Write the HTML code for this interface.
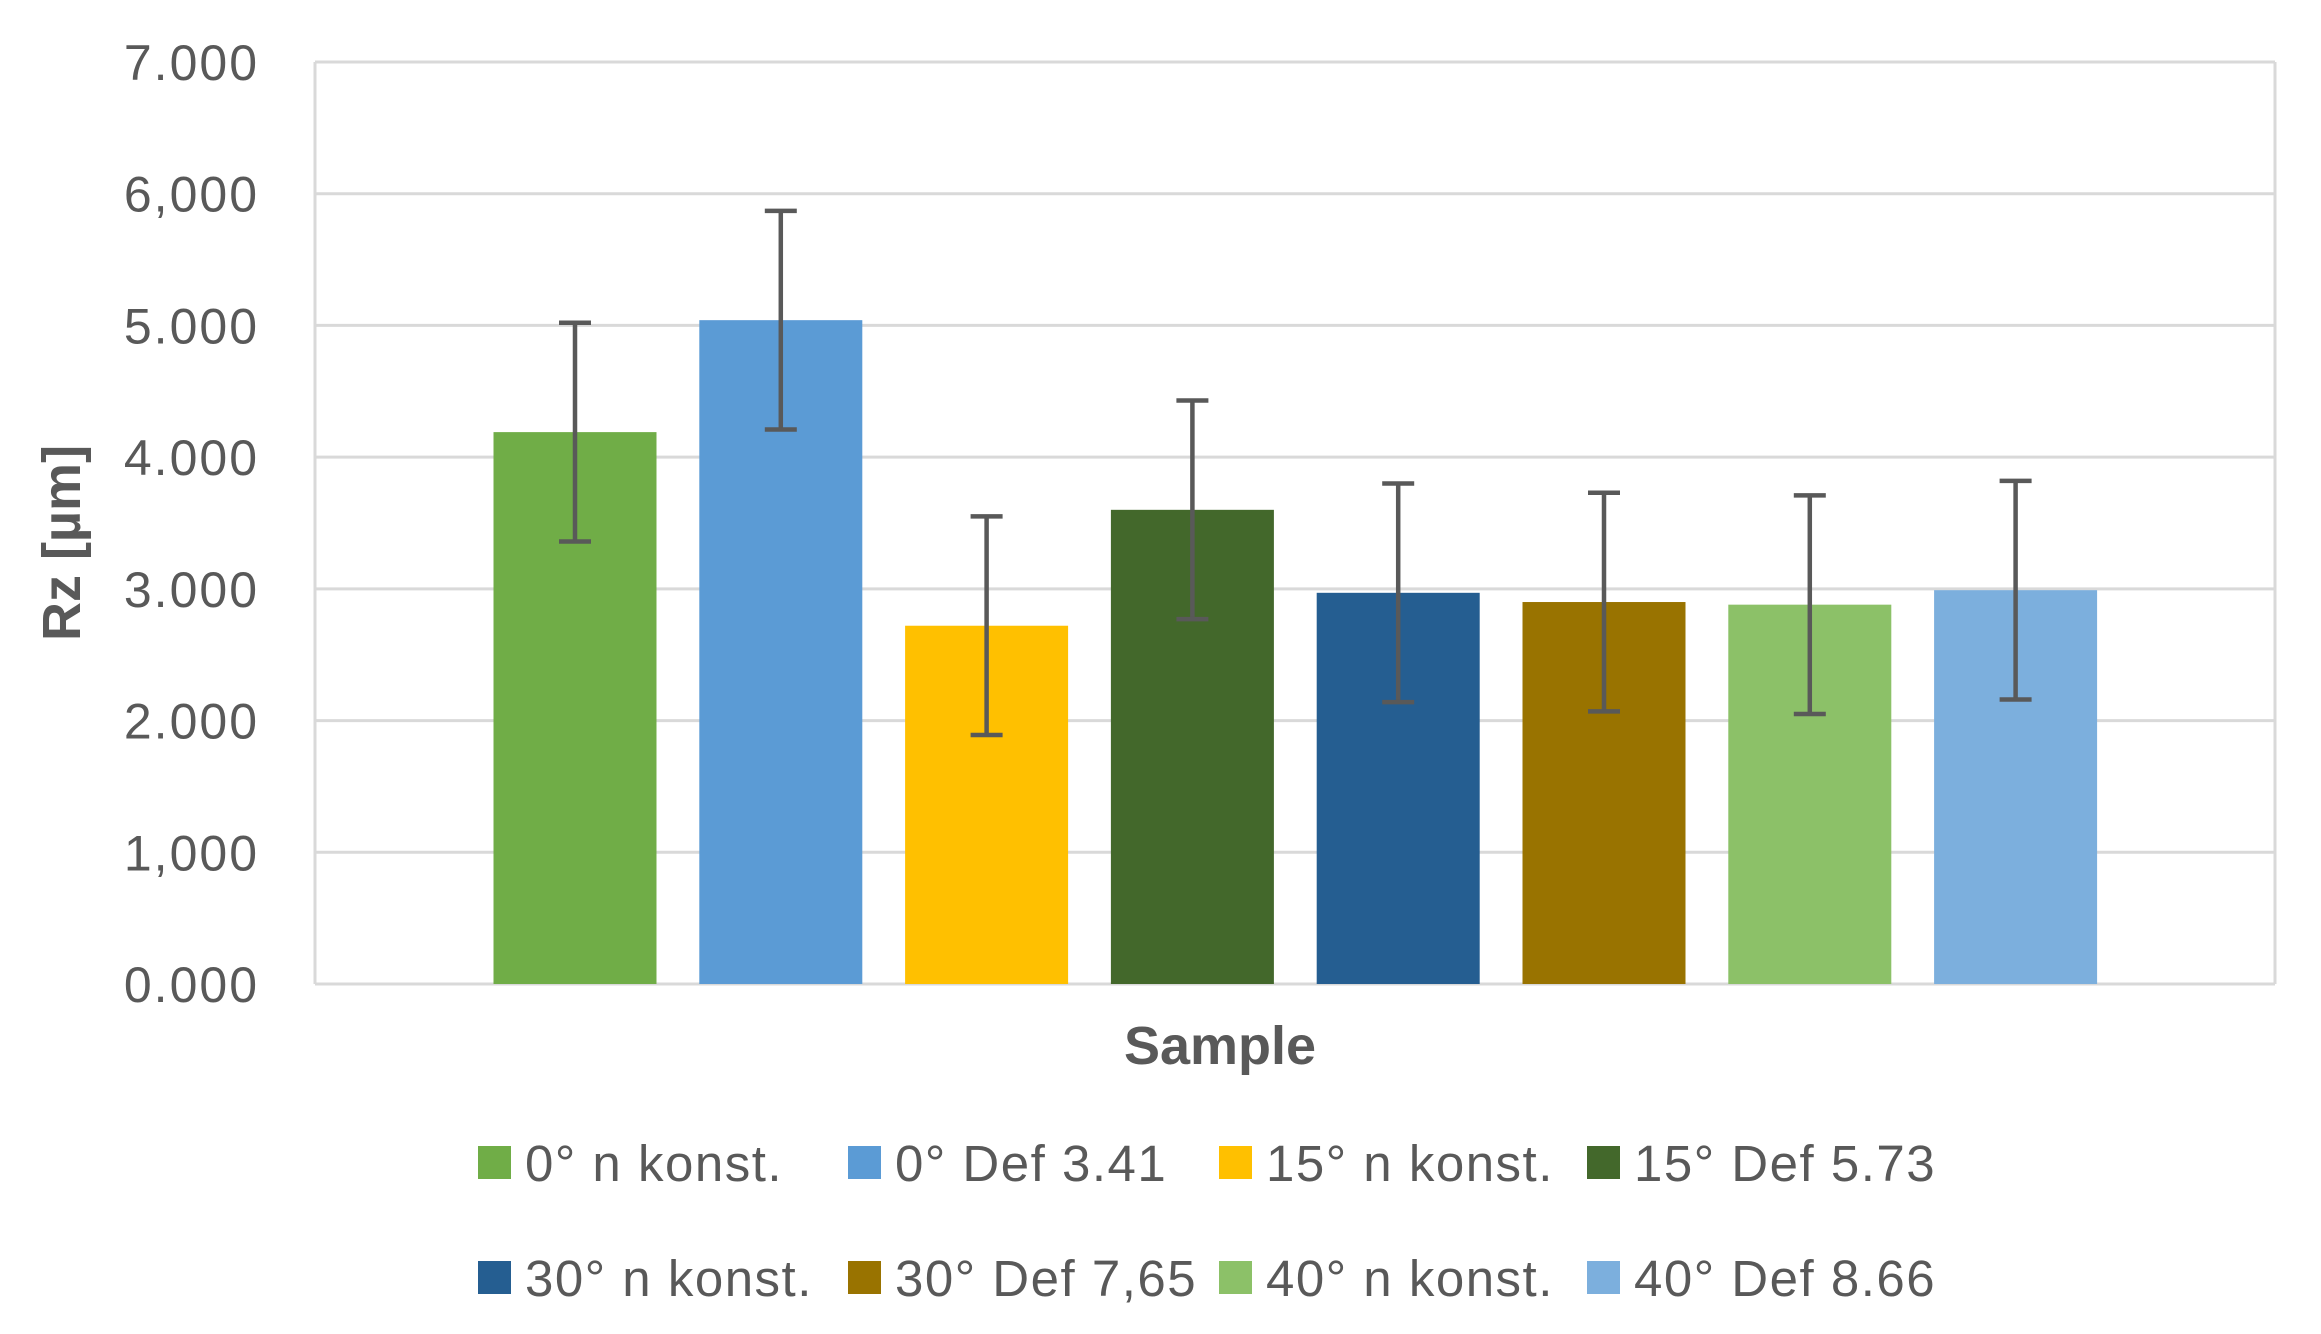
<!DOCTYPE html>
<html><head><meta charset="utf-8"><style>
html,body{margin:0;padding:0;background:#fff;}
svg{display:block;font-family:"Liberation Sans",sans-serif;}
</style></head><body>
<svg id="chart" width="2321" height="1334" viewBox="0 0 2321 1334" xmlns="http://www.w3.org/2000/svg">
<g id="grid"></g>
<g id="bars"></g>
<g id="errs"></g>
<g id="yticks"></g>
<text transform="translate(80,543) rotate(-90)" text-anchor="middle" font-size="54" font-weight="bold" fill="#595959">Rz [µm]</text>
<text x="1220" y="1064" text-anchor="middle" font-size="54" font-weight="bold" fill="#595959">Sample</text>
<g id="legend"></g>
</svg>
<script>
const categories = ["0° n konst.","0° Def 3.41","15° n konst.","15° Def 5.73","30° n konst.","30° Def 7,65","40° n konst.","40° Def 8.66"];
const values = [4.19, 5.04, 2.72, 3.60, 2.97, 2.90, 2.88, 2.99];
const errors = [0.83, 0.83, 0.83, 0.83, 0.83, 0.83, 0.83, 0.83];
const tickValues = [0,1,2,3,4,5,6,7];
const tickLabels = ["0.000","1,000","2.000","3.000","4.000","5.000","6,000","7.000"];
const colors = ["#70ad47","#5b9bd5","#ffc000","#43682b","#255e91","#997300","#8cc168","#7cafdd"];

const NS="http://www.w3.org/2000/svg";
const L=315,R=2275,T=62,B=984,YMAX=7;
function y(v){return B-(v/YMAX)*(B-T);}
function xc(i){return 575+i*205.8;}
const BW=163;
function mk(tag,attrs,parent){const e=document.createElementNS(NS,tag);for(const k in attrs)e.setAttribute(k,attrs[k]);parent.appendChild(e);return e;}
const grid=document.getElementById('grid');
tickValues.forEach((t,i)=>{
  const ln=mk('line',{x1:L,x2:R,y1:y(t),y2:y(t),stroke:'#d9d9d9','stroke-width':3},grid);
  
  
  const tx=mk('text',{x:259,y:y(t)+18,'text-anchor':'end','font-size':50,'letter-spacing':2,fill:'#595959'},document.getElementById('yticks'));
  tx.textContent=tickLabels[i];
  
  
});
const fl=mk('line',{x1:L,x2:L,y1:T,y2:B,stroke:'#d9d9d9','stroke-width':3},grid);


const fr=mk('line',{x1:R,x2:R,y1:T,y2:B,stroke:'#d9d9d9','stroke-width':3},grid);


const bars=document.getElementById('bars'),errs=document.getElementById('errs');
values.forEach((v,i)=>{
  const r=mk('rect',{x:xc(i)-BW/2,y:y(v),width:BW,height:B-y(v),fill:colors[i]},bars);
  
  
  const hi=y(v+errors[i]),lo=y(v-errors[i]),cx=xc(i);
  const g=mk('g',{stroke:'#595959','stroke-width':4.5},errs);
  
  
  mk('line',{x1:cx,x2:cx,y1:hi,y2:lo},g);
  mk('line',{x1:cx-16,x2:cx+16,y1:hi,y2:hi},g);
  mk('line',{x1:cx-16,x2:cx+16,y1:lo,y2:lo},g);
});
const lx=[478,848,1219,1587],ly=[1163,1278];
const leg=document.getElementById('legend');
categories.forEach((c,i)=>{
  const x=lx[i%4],yy=ly[Math.floor(i/4)];
  const g=mk('g',{},leg);
  
  
  mk('rect',{x:x,y:yy-17,width:33,height:33,fill:colors[i]},g);
  const t=mk('text',{x:x+47,y:yy+18,'font-size':51,'letter-spacing':1.5,fill:'#595959'},g);
  t.textContent=c;
});
</script>
</body></html>
